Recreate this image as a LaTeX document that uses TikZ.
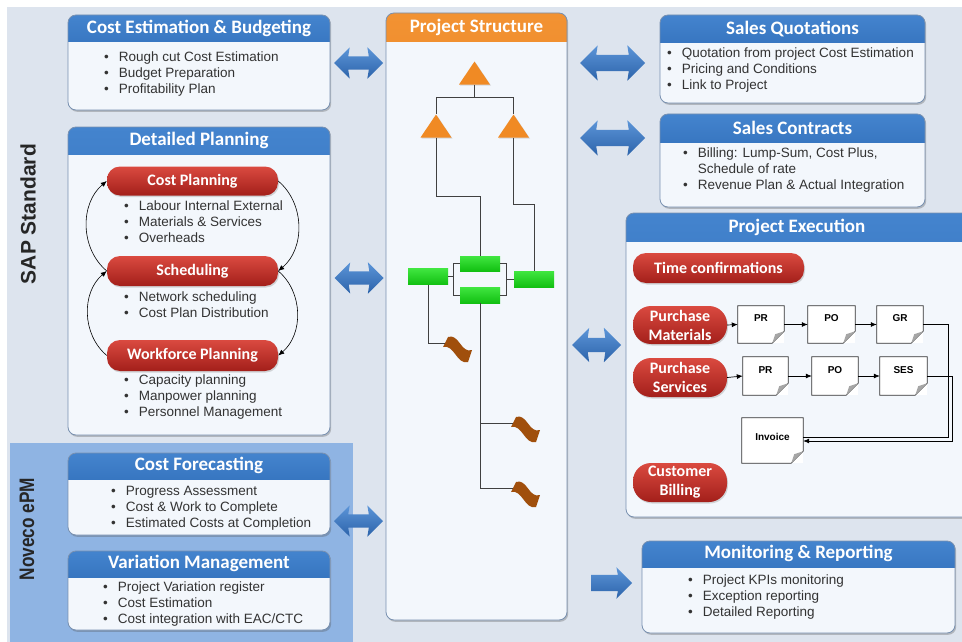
\documentclass[tikz,border=0pt]{standalone}
\usepackage{fontspec}
\setmainfont{Liberation Sans}
\newfontfamily\hdfont{Carlito}
\usetikzlibrary{positioning,shapes.geometric,shapes.arrows,arrows.meta,shadows}

\definecolor{bgpage}{HTML}{DDE4EE}
\definecolor{bgepm}{HTML}{8FB4E3}
\definecolor{panelfill}{HTML}{F3F7FC}
\definecolor{panelline}{HTML}{7890B0}
\definecolor{hdtop}{HTML}{4484CE}
\definecolor{hdbot}{HTML}{1C58A4}
\definecolor{ortop}{HTML}{F29232}
\definecolor{orbot}{HTML}{DF680C}
\definecolor{pilltop}{HTML}{DA4A40}
\definecolor{pillbot}{HTML}{A31F1A}
\definecolor{arrtop}{HTML}{5C95D8}
\definecolor{arrbot}{HTML}{2C63AA}
\definecolor{greentop}{HTML}{40E640}
\definecolor{greenbot}{HTML}{12C012}
\definecolor{triorange}{HTML}{F08A24}
\definecolor{flagbrown}{HTML}{A04F0C}

\newcommand\itm{\textbullet\hspace{10pt}}
\newcommand\itx{\hphantom{\textbullet}\hspace{10pt}}

\begin{document}
\begin{tikzpicture}[x=1pt, y=-1pt,
	panel/.style={draw=panelline, line width=0.8pt, fill=panelfill, rounded corners=8pt, inner sep=0pt,
		drop shadow={shadow xshift=1.2pt, shadow yshift=-1.8pt, opacity=0.3, fill=black!70},
		path picture={\shade[sharp corners, top color=hdtop, bottom color=hdbot] (path picture bounding box.north west) rectangle ([yshift=-#1]path picture bounding box.north east);}},
	panel/.default=28pt,
	orpanel/.style={draw=panelline, line width=0.8pt, fill=panelfill, rounded corners=8pt, inner sep=0pt,
		drop shadow={shadow xshift=1.2pt, shadow yshift=-1.8pt, opacity=0.3, fill=black!70},
		path picture={\shade[sharp corners, top color=ortop, bottom color=orbot] (path picture bounding box.north west) rectangle ([yshift=-#1]path picture bounding box.north east);}},
	hdtext/.style={text=white, inner sep=0pt, font=\hdfont\bfseries\fontsize{19}{22}\selectfont},
	blist/.style={anchor=west, align=left, inner sep=0pt, text=black!80, font=\fontsize{13.5}{16}\selectfont},
	pill/.style={rounded corners=13pt, top color=pilltop, bottom color=pillbot, text=white, align=center, inner sep=0pt,
		font=\hdfont\bfseries\fontsize{16}{19}\selectfont, drop shadow={shadow xshift=1pt, shadow yshift=-1.5pt, opacity=0.3}},
	link/.style={double arrow, top color=arrtop, bottom color=arrbot, inner xsep=0pt, inner ysep=6.5pt,
		double arrow head extend=9pt, double arrow head indent=1.5pt, minimum height=49pt},
	tri/.style={isosceles triangle, shape border rotate=90, isosceles triangle stretches, anchor=apex,
		minimum width=31pt, minimum height=23pt, inner sep=0pt, fill=triorange,
		drop shadow={shadow xshift=1pt, shadow yshift=-1pt, opacity=0.25}},
	wp/.style={minimum width=40pt, minimum height=16pt, inner sep=0pt, top color=greentop, bottom color=greenbot},
	tree/.style={draw=black!75, line width=1pt},
	doc/.style={fill=white, minimum width=46pt, minimum height=37pt, inner xsep=0pt, inner ysep=3.5pt,
		text height=12pt, text depth=18pt, font=\bfseries\fontsize{10}{12}\selectfont},
	flow/.style={draw=black, line width=0.7pt, -{Latex[length=6pt,width=5pt]}},
	cyc/.style={draw=black, line width=0.6pt, -{Latex[length=6pt,width=5pt]}},
	]
			\useasboundingbox (0,0) rectangle (962,642);
			{\fill[white] (0,0) rectangle (962,642);}
			{\fill[bgpage] (7,7) rectangle (962,642);}
			{\fill[bgepm] (10,443) rectangle (353,642);}
			{\node[rotate=90, text=black!85, font=\bfseries\fontsize{21}{24}\selectfont] (sap) at (28,214) {SAP Standard};}
			{\node[rotate=90, text=black!85, font=\bfseries\fontsize{21}{24}\selectfont] (epm) at (27,529) {\scalebox{0.82}[1]{Noveco ePM}};}

			% left column
			{\node[panel=27pt, minimum width=262pt, minimum height=95pt] (ceb) at (199,62.5) {};}
			{\node[hdtext] (cebt) at ([yshift=-13.5pt]ceb.north) {Cost Estimation \& Budgeting};}
			{\node[blist] (cebl) at (104,74) {\itm Rough cut Cost Estimation\\\itm Budget Preparation\\\itm Profitability Plan};}

			{\node[panel=27pt, minimum width=262pt, minimum height=308pt] (dp) at (199,281) {};}
			{\node[hdtext] (dpt) at ([yshift=-13.5pt]dp.north) {Detailed Planning};}
			{\node[pill, minimum width=171pt, minimum height=29pt] (cp) at (192.5,181) {Cost Planning};}
			{\node[pill, minimum width=171pt, minimum height=30pt] (sch) at (192.5,271) {Scheduling};}
			{\node[pill, minimum width=171pt, minimum height=31pt] (wf) at (192.5,355.5) {Workforce Planning};}
			{\node[blist] (cpl) at (124,222) {\itm Labour Internal External\\\itm Materials \& Services\\\itm Overheads};}
			{\node[blist] (schl) at (124,304.5) {\itm Network scheduling\\\itm Cost Plan Distribution};}
			{\node[blist] (wfl) at (124,397) {\itm Capacity planning\\\itm Manpower planning\\\itm Personnel Management};}
			{\draw[cyc] (sch.west) to[out=140, in=220] (cp.west);}
			{\draw[cyc] (wf.west) to[out=140, in=220] (sch.west);}
			{\draw[cyc] (cp.east) to[out=-40, in=40] (sch.east);}
			{\draw[cyc] (sch.east) to[out=-40, in=40] (wf.east);}

			{\node[panel=26pt, minimum width=262pt, minimum height=82pt] (cf) at (199,494) {};}
			{\node[hdtext] (cft) at ([yshift=-13pt]cf.north) {Cost Forecasting};}
			{\node[blist] (cfl) at (111,508) {\itm Progress Assessment\\\itm Cost \& Work to Complete\\\itm Estimated Costs at Completion};}

			{\node[panel=26pt, minimum width=262pt, minimum height=79pt] (vm) at (199,590.5) {};}
			{\node[hdtext] (vmt) at ([yshift=-13pt]vm.north) {Variation Management};}
			{\node[blist] (vml) at (103,604) {\itm Project Variation register\\\itm Cost Estimation\\\itm Cost integration with EAC/CTC};}

			% project structure
			{\node[orpanel=29pt, minimum width=181pt, minimum height=607pt] (ps) at (476.5,316.5) {};}
			{\node[hdtext] (pst) at ([yshift=-14.5pt]ps.north) {Project Structure};}
			{\node[tri] (ps0) at (474.5,61) {};}
			{\node[tri] (ps1) at (436,114) {};}
			{\node[tri] (ps2) at (513.5,114) {};}
			{\node[wp] (nw1) at (428,276.5) {};}
			{\node[wp, minimum height=15pt] (nw2) at (480,263.5) {};}
			{\node[wp] (nw3) at (480,295) {};}
			{\node[wp] (nw4) at (534,279) {};}
			{\draw[tree] (ps1.apex) -- ++(0,-16) coordinate (br) -| (ps2.apex);}
			{\draw[tree] (ps0.south) -- (ps0.south |- br);}
			{\draw[tree] (ps1.south) -- ++(0,59) -| (nw2.north);}
			{\draw[tree] (ps2.south) -- ++(0,67) -| (nw4.north);}
			{\draw[tree] (nw2.west) -| ([xshift=5pt]nw1.east) |- (nw3.west);}
			{\draw[tree] (nw1.east) -- ++(5,0);}
			{\draw[tree] (nw2.east) -| ([xshift=-7pt]nw4.west) |- (nw3.east);}
			{\draw[tree] (nw4.west) -- ++(-7,0);}
			\foreach \m/\x/\y in {ms1/445/343, ms2/513/423, ms3/513/488}{
				\coordinate (\m) at (\x,\y);
				\fill[flagbrown, shift={(\x,\y)}] (3,-6) .. controls (14,-10) and (16,11) .. (27,7)
					-- (23,19) .. controls (11.5,22) and (9.5,1) .. (-2,4) -- cycle;
			}
			{\draw[tree] (nw1.south) |- (ms1);}
			{\draw[tree] (nw3.south) |- (ms3);}
			{\draw[tree] (nw3.south |- ms2) -- (ms2);}

			% right column
			{\node[panel, minimum width=265pt, minimum height=88pt] (sq) at (792.5,59) {};}
			{\node[hdtext] (sqt) at ([yshift=-14pt]sq.north) {Sales Quotations};}
			{\node[blist] (sql) at (667,70) {\itm Quotation from project Cost Estimation\\\itm Pricing and Conditions\\\itm Link to Project};}

			{\node[panel, minimum width=265pt, minimum height=93pt] (sc) at (792.5,160.5) {};}
			{\node[hdtext] (sct) at ([yshift=-14pt]sc.north) {Sales Contracts};}
			{\node[blist] (scl) at (683,170) {\itm Billing: Lump-Sum, Cost Plus,\\\itx Schedule of rate\\\itm Revenue Plan \& Actual Integration};}

			{\node[panel, minimum width=349pt, minimum height=304pt] (pe) at (800.5,365) {};}
			{\node[hdtext] (pet) at (797,227) {Project Execution};}
			{\node[pill, minimum width=171pt, minimum height=30pt] (tc) at (718.5,268) {Time confirmations};}
			{\node[pill, rounded corners=18pt, minimum width=94pt, minimum height=38pt] (pm) at (680,325) {Purchase\\Materials};}
			{\node[pill, rounded corners=18pt, minimum width=94pt, minimum height=39pt] (psv) at (680,377.5) {Purchase\\Services};}
			{\node[pill, rounded corners=18pt, minimum width=94pt, minimum height=39pt] (cb) at (680,482.5) {Customer\\Billing};}
			{\node[doc] (pr1) at (761,324.5) {PR};}
			{\node[doc, minimum width=47pt] (po1) at (831.5,324.5) {PO};}
			{\node[doc] (gr) at (900,324.5) {GR};}
			{\node[doc, minimum width=45pt, minimum height=38pt] (pr2) at (765.5,376) {PR};}
			{\node[doc, minimum height=38pt] (po2) at (835,376) {PO};}
			{\node[doc, minimum width=47pt, minimum height=38pt] (ses) at (903.5,376) {SES};}
			{\node[doc, minimum width=61pt, minimum height=45pt, text height=19pt, text depth=19pt] (inv) at (772.5,440.5) {Invoice};}
			\foreach \d in {pr1,po1,gr,pr2,po2,ses,inv}{
				\draw[black!80, line width=0.7pt] (\d.north west) -- (\d.north east) -- ([yshift=12pt]\d.south east)
					-- ([xshift=-12pt]\d.south east) -- (\d.south west) -- cycle;
				\fill[black!35] ([yshift=12pt]\d.south east) -- ([xshift=-12pt]\d.south east) -- ([xshift=-9pt,yshift=9pt]\d.south east) -- cycle;
			}
			{\draw[flow] (pm.east) -- (pr1.west);}
			{\draw[flow] (pr1.east) -- (po1.west);}
			{\draw[flow] (po1.east) -- (gr.west);}
			{\draw[flow] (psv.east) -- (pr2.west);}
			{\draw[flow] (pr2.east) -- (po2.west);}
			{\draw[flow] (po2.east) -- (ses.west);}
			{\draw[black, line width=0.7pt] (gr.east) -- ++(25,0) |- ([yshift=3pt]inv.east);}
			{\draw[flow] (ses.east) -- ++(25,0) |- ([yshift=-0.5pt]inv.east);}

			{\node[panel=26pt, minimum width=313pt, minimum height=92pt] (mr) at (798.5,587) {};}
			{\node[hdtext] (mrt) at ([yshift=-13pt]mr.north) {Monitoring \& Reporting};}
			{\node[blist] (mrl) at (688,597) {\itm Project KPIs monitoring\\\itm Exception reporting\\\itm Detailed Reporting};}

			% block arrows
			{\node[link] (ceb2ps) at (358.5,63) {};}
			{\node[link] (dp2ps) at (359,278) {};}
			{\node[link] (epm2ps) at (358.5,521) {};}
			{\node[link, minimum height=65pt, inner ysep=8pt, double arrow head extend=9.5pt] (ps2sq) at (612.5,63) {};}
			{\node[link, minimum height=65pt, inner ysep=8pt, double arrow head extend=9.5pt] (ps2sc) at (612.5,138) {};}
			{\node[link, inner ysep=7pt, double arrow head extend=10pt] (ps2pe) at (596.5,345) {};}
			{\node[single arrow, top color=arrtop, bottom color=arrbot, inner xsep=0pt, inner ysep=8pt, single arrow head extend=7.5pt,
				single arrow head indent=1.5pt, minimum height=41pt] (ps2mr) at (607.5,583) {};}
		\end{tikzpicture}
\end{document}
